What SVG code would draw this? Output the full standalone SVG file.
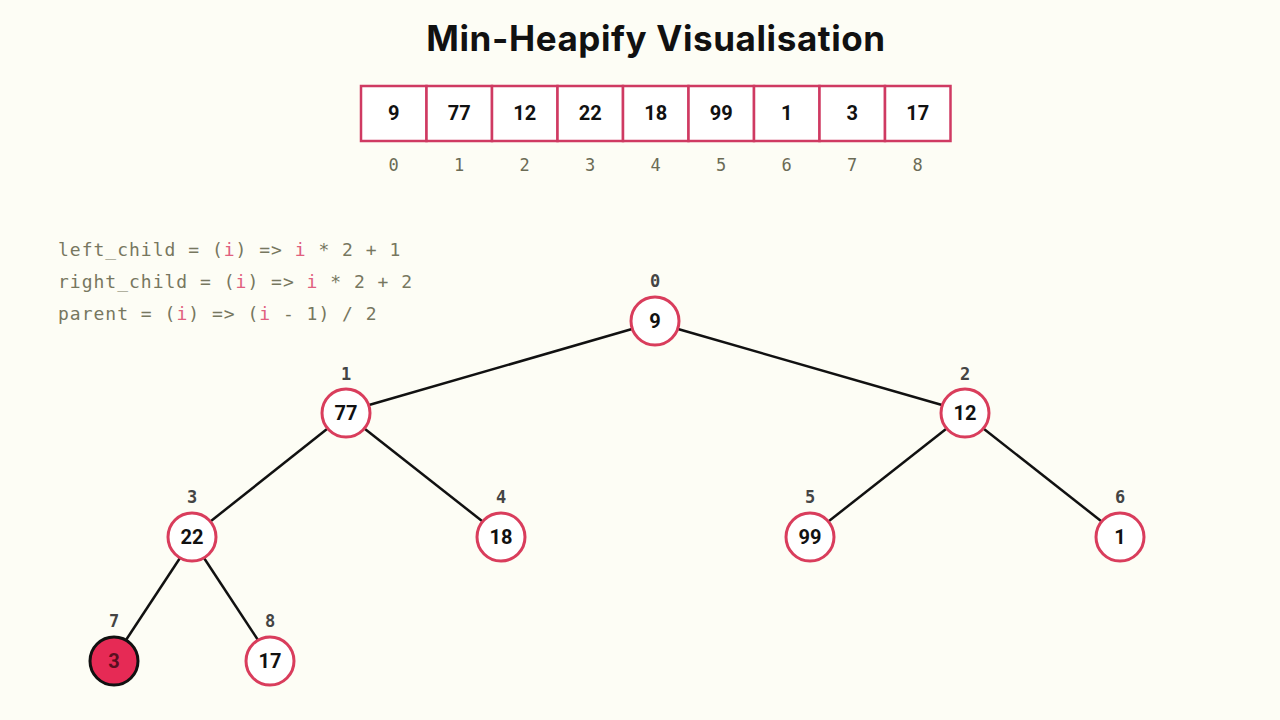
<svg xmlns="http://www.w3.org/2000/svg" width="1280" height="720" viewBox="0 0 1280 720">
<defs>
<style>
.cell{fill:#ffffff;stroke:#cf3a62;stroke-width:2.5}
.val{font-family:Roboto,"Liberation Sans",sans-serif;font-weight:700;font-size:20px;fill:#111;text-anchor:middle}
.idx{font-family:"DejaVu Sans Mono","Liberation Mono",monospace;font-size:17px;fill:#6b6b55;text-anchor:middle}
.nidx{font-family:"DejaVu Sans Mono","Liberation Mono",monospace;font-size:17px;font-weight:700;fill:#444;text-anchor:middle}
.node{fill:#ffffff;stroke:#d93d5c;stroke-width:3}
.code{font-family:"DejaVu Sans Mono","Liberation Mono",monospace;font-size:18px;letter-spacing:1px;fill:#77775f}
.hl{fill:#e0607e}
.edge{stroke:#111;stroke-width:2.5;fill:none}
</style>
</defs>
<rect width="1280" height="720" fill="#fdfdf5"/>
<text x="656" y="51" text-anchor="middle" font-family="Inter,'Open Sans',sans-serif" font-weight="700" font-size="35" letter-spacing="0.6" fill="#111">Min-Heapify Visualisation</text>
<g id="array">
<rect class="cell" x="361" y="86" width="65.5" height="55"/>
<rect class="cell" x="426.5" y="86" width="65.5" height="55"/>
<rect class="cell" x="492" y="86" width="65.5" height="55"/>
<rect class="cell" x="557.5" y="86" width="65.5" height="55"/>
<rect class="cell" x="623" y="86" width="65.5" height="55"/>
<rect class="cell" x="688.5" y="86" width="65.5" height="55"/>
<rect class="cell" x="754" y="86" width="65.5" height="55"/>
<rect class="cell" x="819.5" y="86" width="65.5" height="55"/>
<rect class="cell" x="885" y="86" width="65.5" height="55"/>
<text class="val" x="393.7" y="120">9</text>
<text class="val" x="459.2" y="120">77</text>
<text class="val" x="524.7" y="120">12</text>
<text class="val" x="590.2" y="120">22</text>
<text class="val" x="655.7" y="120">18</text>
<text class="val" x="721.2" y="120">99</text>
<text class="val" x="786.7" y="120">1</text>
<text class="val" x="852.2" y="120">3</text>
<text class="val" x="917.7" y="120">17</text>
<text class="idx" x="393.7" y="171">0</text>
<text class="idx" x="459.2" y="171">1</text>
<text class="idx" x="524.7" y="171">2</text>
<text class="idx" x="590.2" y="171">3</text>
<text class="idx" x="655.7" y="171">4</text>
<text class="idx" x="721.2" y="171">5</text>
<text class="idx" x="786.7" y="171">6</text>
<text class="idx" x="852.2" y="171">7</text>
<text class="idx" x="917.7" y="171">8</text>
</g>
<g id="code">
<text class="code" x="58" y="256">left_child = (<tspan class="hl">i</tspan>) =&gt; <tspan class="hl">i</tspan> * 2 + 1</text>
<text class="code" x="58" y="288">right_child = (<tspan class="hl">i</tspan>) =&gt; <tspan class="hl">i</tspan> * 2 + 2</text>
<text class="code" x="58" y="320">parent = (<tspan class="hl">i</tspan>) =&gt; (<tspan class="hl">i</tspan> - 1) / 2</text>
</g>
<g id="connectors">
<line class="edge" x1="632" y1="329" x2="369" y2="405"/>
<line class="edge" x1="678" y1="329" x2="942" y2="405"/>
<line class="edge" x1="327" y1="429" x2="211" y2="521"/>
<line class="edge" x1="365" y1="429" x2="482" y2="521"/>
<line class="edge" x1="946" y1="429" x2="829" y2="521"/>
<line class="edge" x1="984" y1="429" x2="1101" y2="521"/>
<line class="edge" x1="180" y1="558" x2="126" y2="640"/>
<line class="edge" x1="204" y1="558" x2="258" y2="640"/>
</g>
<g id="node0"><text class="nidx" x="655" y="287">0</text><circle class="node" cx="655" cy="321" r="24"/><text class="val" x="655" y="328">9</text></g>
<g id="node1"><text class="nidx" x="346" y="380">1</text><circle class="node" cx="346" cy="413" r="24"/><text class="val" x="346" y="420">77</text></g>
<g id="node2"><text class="nidx" x="965" y="380">2</text><circle class="node" cx="965" cy="413" r="24"/><text class="val" x="965" y="420">12</text></g>
<g id="node3"><text class="nidx" x="192" y="503">3</text><circle class="node" cx="192" cy="537" r="24"/><text class="val" x="192" y="544">22</text></g>
<g id="node4"><text class="nidx" x="501" y="503">4</text><circle class="node" cx="501" cy="537" r="24"/><text class="val" x="501" y="544">18</text></g>
<g id="node5"><text class="nidx" x="810" y="503">5</text><circle class="node" cx="810" cy="537" r="24"/><text class="val" x="810" y="544">99</text></g>
<g id="node6"><text class="nidx" x="1120" y="503">6</text><circle class="node" cx="1120" cy="537" r="24"/><text class="val" x="1120" y="544">1</text></g>
<g id="node7"><text class="nidx" x="114" y="627">7</text><circle cx="114" cy="661" r="24" fill="#e62a55" stroke="#111" stroke-width="3"/><text class="val" x="114" y="668" style="fill:#5a0f1f">3</text></g>
<g id="node8"><text class="nidx" x="270" y="627">8</text><circle class="node" cx="270" cy="661" r="24"/><text class="val" x="270" y="668">17</text></g>
</svg>
